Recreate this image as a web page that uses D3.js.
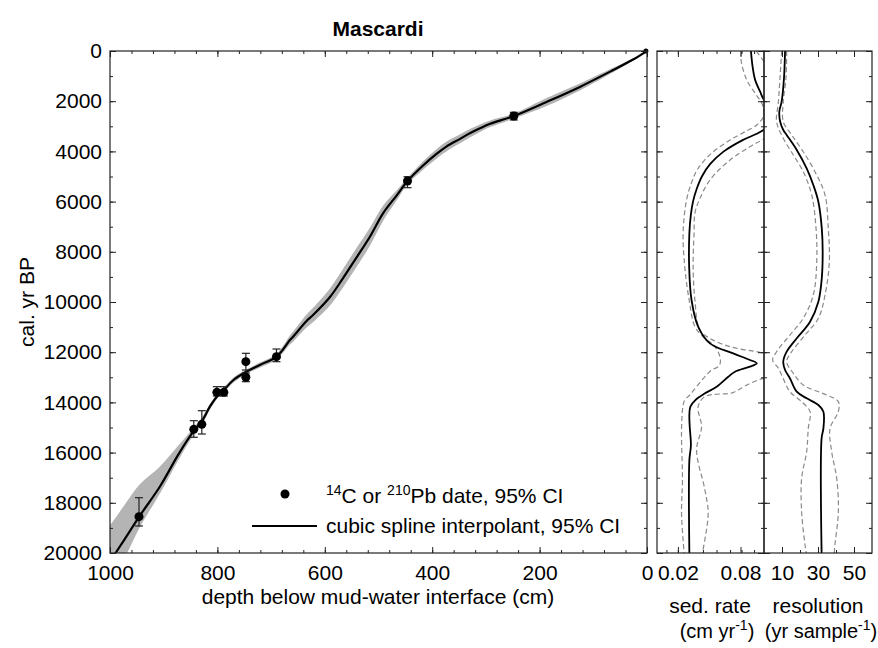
<!DOCTYPE html>
<html>
<head>
<meta charset="utf-8">
<script src="https://cdn.jsdelivr.net/npm/d3@7"></script>
<style>
  body { margin: 0; background: #fff; }
  text { font-family: "Liberation Sans", Arial, sans-serif; fill: #000; }
</style>
</head>
<body>
<script>
// age-depth model, Mascardi
let curveDepth = [0, 25, 63, 125, 187, 248, 292, 311, 330, 348, 373, 392, 417, 446, 466, 491, 516, 541, 566, 590, 621, 634, 659, 665, 690, 721, 746, 770, 788, 801, 814, 829, 845, 872, 907, 944, 963, 988, 1000]
let curveAge = [0, 330, 760, 1430, 2030, 2590, 2900, 3080, 3280, 3500, 3800, 4100, 4560, 5179, 5750, 6450, 7400, 8230, 9050, 9790, 10500, 10760, 11380, 11514, 12179, 12510, 12777, 13107, 13506, 13772, 14171, 14750, 15167, 16050, 17350, 18500, 19130, 19950, 20350]
// 95% CI of the spline, offsets in years (young side, old side)
let ciYoung = [0, 40, 90, 140, 160, 100, 130, 150, 170, 180, 190, 190, 170, 130, 200, 300, 360, 380, 370, 340, 290, 260, 200, 180, 110, 100, 90, 100, 90, 90, 110, 140, 150, 350, 800, 1250, 1350, 1400, 1450]
let ciOld = [0, 40, 90, 140, 160, 100, 130, 150, 170, 180, 190, 190, 170, 130, 200, 300, 360, 380, 370, 340, 290, 260, 200, 180, 110, 100, 90, 100, 90, 90, 110, 140, 150, 220, 280, 450, 650, 900, 1000]

// dates (14C / 210Pb)
let dateDepth = [248, 446, 690, 747, 747, 788, 801, 829, 844, 946]
let dateAge = [2590, 5179, 12179, 12378, 13000, 13598, 13598, 14873, 15072, 18553]
let dateLo = [2442, 5008, 11873, 12044, 12829, 13374, 13374, 14331, 14729, 17797]
let dateHi = [2749, 5446, 12378, 12709, 13175, 13745, 13745, 15259, 15390, 18924]

// sedimentation rate (cm/yr) against age: [age, value]
let sedMid = [[0, 0.090], [600, 0.0915], [1150, 0.094], [1620, 0.0988], [1950, 0.1026], [2400, 0.115], [2800, 0.112], [3200, 0.1], [3550, 0.082], [4000, 0.064], [4500, 0.051], [5000, 0.043], [5500, 0.038], [6000, 0.0345], [6500, 0.0325], [7260, 0.031], [8600, 0.0308], [9900, 0.033], [10980, 0.0394], [11650, 0.0507], [12050, 0.073], [12310, 0.0891], [12442, 0.0956], [12577, 0.0891], [12776, 0.0747], [12976, 0.0683], [13374, 0.0571], [13640, 0.046], [13900, 0.037], [14170, 0.032], [14500, 0.031], [15000, 0.0314], [15700, 0.0325], [16300, 0.031], [20000, 0.031]]
let sedLow = [[0, 0.081], [360, 0.0805], [1155, 0.086], [1686, 0.094], [2084, 0.1004], [2400, 0.1022], [2617, 0.102], [2948, 0.0956], [3200, 0.085], [3546, 0.07], [4100, 0.0515], [4700, 0.039], [5200, 0.0335], [5936, 0.0283], [7263, 0.025], [8592, 0.0266], [9920, 0.0308], [10984, 0.0363], [11383, 0.0442], [11781, 0.0555], [12179, 0.0603], [12442, 0.0605], [12577, 0.0587], [12710, 0.0523], [12976, 0.0459], [13374, 0.0379], [13705, 0.0314], [13904, 0.0266], [14104, 0.025], [15100, 0.0235], [17092, 0.0244], [18420, 0.0235], [20000, 0.026]]
let sedHigh = [[0, 0.095], [300, 0.1005], [600, 0.106], [1500, 0.13], [3000, 0.13], [3500, 0.103], [3812, 0.089], [4342, 0.07], [5139, 0.0507], [5936, 0.0405], [6466, 0.0363], [7263, 0.0355], [8592, 0.0346], [9920, 0.0363], [11117, 0.041], [11448, 0.0507], [11781, 0.07], [11980, 0.0956], [12047, 0.1026], [12300, 0.13], [12800, 0.13], [13040, 0.1026], [13107, 0.097], [13306, 0.086], [13505, 0.0779], [13620, 0.072], [13771, 0.0459], [14170, 0.0394], [14967, 0.0427], [15896, 0.0379], [17490, 0.0459], [18420, 0.049], [20000, 0.0435]]

// resolution (yr/sample) against age
let resMid = [[0, 11.7], [1088, 11.1], [2019, 9.8], [2418, 8.5], [2816, 9.0], [3147, 10.7], [3347, 12.6], [3944, 18.2], [4675, 23.7], [5339, 27.4], [6004, 30.2], [7064, 32.1], [7996, 32.6], [9056, 32.1], [9988, 30.2], [10785, 25.6], [11447, 18.2], [11980, 12.6], [12378, 10.7], [12710, 11.7], [13040, 14.4], [13573, 18.2], [13838, 23.7], [14104, 30.2], [14370, 33], [15033, 33], [15432, 32], [20000, 32]]
let resLow = [[0, 9.8], [2019, 8], [2816, 7], [3479, 10.7], [4143, 16.3], [4808, 21.8], [5737, 26.5], [7064, 28.9], [8394, 29.3], [9721, 27.4], [10650, 21.8], [11315, 14.4], [11980, 7], [12311, 4.8], [12641, 8], [12908, 9.8], [13573, 14.4], [13971, 20.9], [14370, 25.6], [15033, 24.6], [15964, 23.7], [17024, 20.9], [18354, 20.9], [19681, 22.8], [20000, 23.5]]
let resHigh = [[0, 12.6], [1088, 12.2], [2019, 10.7], [2816, 10.7], [3347, 15.4], [4012, 21.8], [4808, 28.3], [5737, 33.9], [7064, 35.7], [8394, 36.3], [9721, 33.9], [10650, 30.2], [11315, 22.8], [11980, 15.4], [12378, 12.6], [12841, 16.3], [13307, 21.8], [13705, 34.8], [13971, 41.3], [14370, 41.3], [15033, 36.7], [15964, 37.6], [17024, 40.4], [18354, 41.3], [19681, 39.4], [20000, 39]]

// ticks
let depthMajor = [1000, 800, 600, 400, 200, 0]
let depthMinor = d3.range(0, 1001, 40)
let ageMajor = d3.range(0, 20001, 2000)
let ageMinor = d3.range(0, 20001, 1000)
let sedMajor = [0.02, 0.08]
let sedMinorTicks = [0.009, 0.02, 0.044, 0.057, 0.07, 0.081, 0.093]
let resMajor = [10, 30, 50]
let resMinorTicks = [10, 20, 30, 40, 50]

const W = 878, H = 648
const FS = 21

let svg = d3.select("body").append("svg")
  .attr("width", W).attr("height", H)

let x = d3.scaleLinear().domain([1000, 0]).range([110, 647])
let y = d3.scaleLinear().domain([0, 20000]).range([51, 553])
let xSed = d3.scaleLinear().domain([0, 0.1025]).range([657, 764])
let xRes = d3.scaleLinear().domain([0, 60]).range([764, 872])

let defs = svg.append("defs")
let clip = (id, sx) => {
  defs.append("clipPath").attr("id", id).append("rect")
    .attr("x", sx.range()[0]).attr("y", y.range()[0])
    .attr("width", sx.range()[1] - sx.range()[0])
    .attr("height", y.range()[1] - y.range()[0])
}
clip("cMain", x)
clip("cSed", xSed)
clip("cRes", xRes)

// frame with inward ticks on all four sides
let frame = (sx, xMin, xMaj, labels) => {
  let g = svg.append("g")
  let [x0, x1] = sx.range()
  let [y0, y1] = y.range()
  let axes = [
    [d3.axisBottom(sx), y1, xMin, 3, false], [d3.axisBottom(sx), y1, xMaj, 6, labels],
    [d3.axisTop(sx), y0, xMin, 3, false], [d3.axisTop(sx), y0, xMaj, 6, false]
  ]
  axes.forEach(([ax, pos, vals, len, lab]) => {
    let a = g.append("g").attr("transform", `translate(0,${pos})`)
      .call(ax.tickValues(vals).tickSize(-len).tickPadding(12).tickFormat(lab ? d3.format("") : ""))
    a.select(".domain").remove()
  })
  let yaxes = [
    [d3.axisLeft(y), x0, ageMinor, 3], [d3.axisLeft(y), x0, ageMajor, 6],
    [d3.axisRight(y), x1, ageMinor, 3], [d3.axisRight(y), x1, ageMajor, 6]
  ]
  yaxes.forEach(([ax, pos, vals, len]) => {
    let a = g.append("g").attr("transform", `translate(${pos},0)`)
      .call(ax.tickValues(vals).tickSize(-len).tickFormat(""))
    a.select(".domain").remove()
  })
  g.selectAll(".tick line").attr("stroke", "#222")
  g.selectAll(".tick text").style("font-size", FS + "px").attr("fill", "#000")
  g.append("rect").attr("x", x0).attr("y", y0).attr("width", x1 - x0).attr("height", y1 - y0)
    .attr("fill", "none").attr("stroke", "#222").attr("stroke-width", 1.2)
  return g
}

// main panel
let main = svg.append("g").attr("clip-path", "url(#cMain)")
let band = d3.area()
  .x((d, i) => x(curveDepth[i]))
  .y0((d, i) => y(curveAge[i] - ciYoung[i]))
  .y1((d, i) => y(curveAge[i] + ciOld[i]))
  .curve(d3.curveCatmullRom)
main.append("path").attr("d", band(curveDepth)).attr("fill", "#b4b4b4")

let spline = d3.line()
  .x((d, i) => x(curveDepth[i]))
  .y((d, i) => y(curveAge[i]))
  .curve(d3.curveCatmullRom)
main.append("path").attr("d", spline(curveDepth))
  .attr("fill", "none").attr("stroke", "#000").attr("stroke-width", 2.2)

let bars = main.append("g").attr("stroke", "#222").attr("stroke-width", 1.2)
dateDepth.forEach((d, i) => {
  let cx = x(d)
  bars.append("line").attr("x1", cx).attr("x2", cx).attr("y1", y(dateLo[i])).attr("y2", y(dateHi[i]))
  bars.append("line").attr("x1", cx - 4).attr("x2", cx + 4).attr("y1", y(dateLo[i])).attr("y2", y(dateLo[i]))
  bars.append("line").attr("x1", cx - 4).attr("x2", cx + 4).attr("y1", y(dateHi[i])).attr("y2", y(dateHi[i]))
})
main.selectAll("circle.date").data(dateDepth).enter().append("circle")
  .attr("class", "date")
  .attr("cx", d => x(d)).attr("cy", (d, i) => y(dateAge[i]))
  .attr("r", 4.5).attr("fill", "#000")
// core top
svg.append("circle").attr("cx", x(2)).attr("cy", y(0)).attr("r", 2.5).attr("fill", "#000")

frame(x, depthMinor, depthMajor, true)
// left y labels
svg.append("g").attr("transform", "translate(110,0)")
  .call(d3.axisLeft(y).tickValues(ageMajor).tickSize(0).tickPadding(8).tickFormat(d3.format("")))
  .call(g => g.select(".domain").remove())
  .selectAll("text").style("font-size", FS + "px").attr("fill", "#000")

// side panels
let sideLine = (sx) => d3.line().x(d => sx(d[1])).y(d => y(d[0])).curve(d3.curveCatmullRom)
let sed = svg.append("g").attr("clip-path", "url(#cSed)")
;[sedLow, sedHigh].forEach(s => sed.append("path").attr("d", sideLine(xSed)(s))
  .attr("fill", "none").attr("stroke", "#8a8a8a").attr("stroke-width", 1.2).attr("stroke-dasharray", "5,3"))
sed.append("path").attr("d", sideLine(xSed)(sedMid))
  .attr("fill", "none").attr("stroke", "#000").attr("stroke-width", 1.8)

let res = svg.append("g").attr("clip-path", "url(#cRes)")
;[resLow, resHigh].forEach(s => res.append("path").attr("d", sideLine(xRes)(s))
  .attr("fill", "none").attr("stroke", "#8a8a8a").attr("stroke-width", 1.2).attr("stroke-dasharray", "5,3"))
res.append("path").attr("d", sideLine(xRes)(resMid))
  .attr("fill", "none").attr("stroke", "#000").attr("stroke-width", 1.8)

frame(xSed, sedMinorTicks, sedMajor, false)
frame(xRes, resMinorTicks, resMajor, true)
svg.append("g").attr("transform", "translate(0,553)")
  .call(d3.axisBottom(xSed).tickValues(sedMajor).tickSize(0).tickPadding(12).tickFormat(d3.format(".2f")))
  .call(g => g.select(".domain").remove())
  .selectAll("text").style("font-size", FS + "px").attr("fill", "#000")

// texts
svg.append("text").attr("x", 378).attr("y", 36).attr("text-anchor", "middle")
  .style("font-size", FS + "px").style("font-weight", "bold").text("Mascardi")
svg.append("text").attr("transform", "translate(34,302) rotate(-90)").attr("text-anchor", "middle")
  .style("font-size", FS + "px").text("cal. yr BP")
svg.append("text").attr("x", 378).attr("y", 604).attr("text-anchor", "middle")
  .style("font-size", FS + "px").text("depth below mud-water interface (cm)")

svg.append("text").attr("x", 710).attr("y", 613).attr("text-anchor", "middle")
  .style("font-size", FS + "px").text("sed. rate")
svg.append("text").attr("x", 818).attr("y", 613).attr("text-anchor", "middle")
  .style("font-size", FS + "px").text("resolution")
let t3 = svg.append("text").attr("x", 717).attr("y", 638).attr("text-anchor", "middle").style("font-size", "20px")
t3.append("tspan").text("(cm yr")
t3.append("tspan").text("-1").attr("dy", -8).style("font-size", "14px")
t3.append("tspan").text(")").attr("dy", 8)
let t4 = svg.append("text").attr("x", 821).attr("y", 638).attr("text-anchor", "middle").style("font-size", "20px")
t4.append("tspan").text("(yr sample")
t4.append("tspan").text("-1").attr("dy", -8).style("font-size", "14px")
t4.append("tspan").text(")").attr("dy", 8)

// legend
let leg = svg.append("g")
leg.append("circle").attr("cx", 285).attr("cy", 494).attr("r", 4.5).attr("fill", "#000")
leg.append("line").attr("x1", 252).attr("x2", 317).attr("y1", 526).attr("y2", 526)
  .attr("stroke", "#000").attr("stroke-width", 2.2)
let l1 = leg.append("text").attr("x", 326).attr("y", 503).style("font-size", FS + "px")
l1.append("tspan").text("14").attr("dy", -8).style("font-size", "14px")
l1.append("tspan").text("C or ").attr("dy", 8)
l1.append("tspan").text("210").attr("dy", -8).style("font-size", "14px")
l1.append("tspan").text("Pb date, 95% CI").attr("dy", 8)
leg.append("text").attr("x", 326).attr("y", 533).style("font-size", FS + "px")
  .text("cubic spline interpolant, 95% CI")
</script>
</body>
</html>
